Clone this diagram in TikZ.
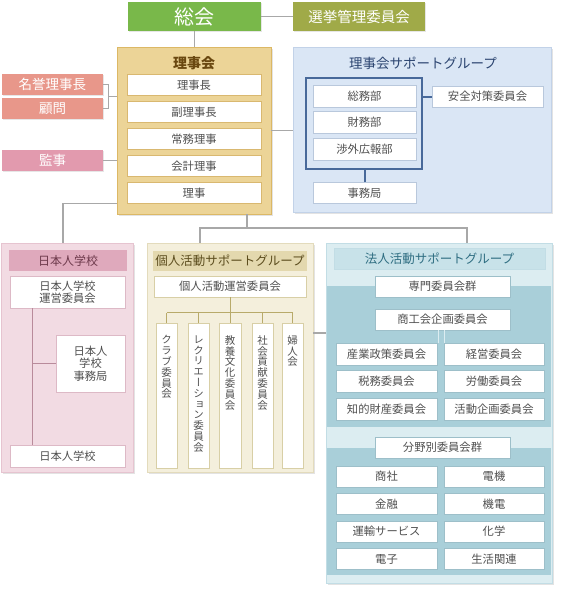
\documentclass[tikz,border=0pt]{standalone}
\usepackage{fontspec}
\setmainfont{Noto Sans CJK JP}
\newfontfamily\tatefont[RawFeature=+vert]{Noto Sans CJK JP}
\usetikzlibrary{calc,shadows}
\definecolor{sokaigreen}{HTML}{79B84A}
\definecolor{senkyoolive}{HTML}{A0AA48}
\definecolor{meiyosalmon}{HTML}{E8978A}
\definecolor{kanjipink}{HTML}{E29AAE}
\definecolor{rijifill}{HTML}{ECD497}
\definecolor{rijiborder}{HTML}{DCB865}
\definecolor{rijititle}{HTML}{6A4810}
\definecolor{rijiinner}{HTML}{D9B870}
\definecolor{supfill}{HTML}{DAE6F5}
\definecolor{supborder}{HTML}{C2D2E8}
\definecolor{suptitle}{HTML}{2B4470}
\definecolor{supinner}{HTML}{B9C8DC}
\definecolor{framenavy}{HTML}{48699A}
\definecolor{nihonfill}{HTML}{F2DBE3}
\definecolor{nihonborder}{HTML}{E6C4D0}
\definecolor{nihonhead}{HTML}{DFA9BC}
\definecolor{nihontitle}{HTML}{6E3A4C}
\definecolor{nihoninner}{HTML}{DDB9C6}
\definecolor{nihonline}{HTML}{B98B9B}
\definecolor{kojinfill}{HTML}{F4EFDC}
\definecolor{kojinborder}{HTML}{E3DBBC}
\definecolor{kojinhead}{HTML}{E3D8AE}
\definecolor{kojintitle}{HTML}{5C4D1E}
\definecolor{kojininner}{HTML}{D8CFA6}
\definecolor{kojinline}{HTML}{B8AA6A}
\definecolor{hojinlight}{HTML}{DCEDF1}
\definecolor{hojindark}{HTML}{A9CFD9}
\definecolor{hojinborder}{HTML}{C2DDE5}
\definecolor{hojinhead}{HTML}{C8E2E9}
\definecolor{hojintitle}{HTML}{2F6E82}
\definecolor{hojininner}{HTML}{9DBFC9}
\definecolor{conngray}{HTML}{A8A8A8}
\definecolor{txtgray}{HTML}{505050}
\newcommand{\tate}[1]{\parbox[c][120pt][t]{12pt}{\centering\tatefont\fontsize{10.5}{10.8}\selectfont #1}}
\begin{document}
\begin{tikzpicture}[x=1pt,y=-1pt,
    every node/.style={inner sep=0pt},
    grp/.style={draw=#1, line width=0.8pt, drop shadow={shadow xshift=1.5pt,shadow yshift=-1.5pt,opacity=0.22}},
    cbox/.style={fill=#1, text=white, font=\fontsize{13.5}{13.5}\selectfont, drop shadow={shadow xshift=1pt,shadow yshift=-1pt,opacity=0.2}},
    wbox/.style={fill=white, draw=#1, line width=0.5pt, text=txtgray, align=center, font=\fontsize{11.3}{12.5}\selectfont, drop shadow={shadow xshift=0.8pt,shadow yshift=-0.8pt,opacity=0.2}},
    vbox/.style={wbox=kojininner, minimum width=21.5pt, minimum height=145pt},
    conn/.style={draw=conngray, line width=1.2pt}]
\useasboundingbox (0,0) rectangle (561,590);

% top
\node[cbox=sokaigreen, minimum width=133pt, minimum height=29pt, font=\fontsize{20}{20}\selectfont] (sokai) at (194.5,16.5) {総会};
\node[cbox=senkyoolive, minimum width=132pt, minimum height=29pt, font=\fontsize{14.5}{14.5}\selectfont] (senkyo) at (359,16.5) {選挙管理委員会};

% board
\node[grp=rijiborder, fill=rijifill, minimum width=154pt, minimum height=167pt] (rijikai) at (194,130.5) {};
\node[font=\bfseries\fontsize{14}{14}\selectfont, text=rijititle] (rijikaiT) at (194,63) {理事会};
\foreach \n/\t [count=\i] in {rj1/理事長, rj2/副理事長, rj3/常務理事, rj4/会計理事, rj5/理事}
  \node[wbox=rijiinner, minimum width=134pt, minimum height=21pt] (\n) at (194,58+27*\i) {\t};
\node[cbox=meiyosalmon, minimum width=101pt, minimum height=21pt] (meiyo) at (52.5,84.5) {名誉理事長};
\node[cbox=meiyosalmon, minimum width=101pt, minimum height=21pt] (komon) at (52.5,108.5) {顧問};
\node[cbox=kanjipink, minimum width=101pt, minimum height=21pt] (kanji) at (52.5,160.5) {監事};

% board support group
\node[grp=supborder, fill=supfill, minimum width=258pt, minimum height=165pt] (support) at (422,129.5) {};
\node[font=\fontsize{13.5}{13.5}\selectfont, text=suptitle] (supportT) at (423,63) {理事会サポートグループ};
\node[draw=framenavy, line width=2pt, minimum width=116pt, minimum height=91pt] (frame) at (364,123.5) {};
\foreach \n/\t [count=\i] in {somu/総務部, zaimu/財務部, shogai/渉外広報部}
  \node[wbox=supinner, minimum width=103pt, minimum height=22pt] (\n) at (364.5,69.5+26.5*\i) {\t};
\node[wbox=supinner, minimum width=103pt, minimum height=21pt] (jimukyoku) at (364.5,193) {事務局};
\node[wbox=supinner, minimum width=111pt, minimum height=21pt] (anzen) at (487.5,96.5) {安全対策委員会};

% japanese school
\node[grp=nihonborder, fill=nihonfill, minimum width=132pt, minimum height=229pt] (nihon) at (67,357.5) {};
\node[fill=nihonhead, minimum width=118pt, minimum height=21pt, text=nihontitle, font=\fontsize{12}{12}\selectfont] (nihonT) at (68,260.5) {日本人学校};
\node[wbox=nihoninner, minimum width=115pt, minimum height=32pt] (nunei) at (67.5,292) {日本人学校\\運営委員会};
\node[wbox=nihoninner, minimum width=69pt, minimum height=57pt] (njimu) at (90.5,363.5) {日本人\\学校\\事務局};
\node[wbox=nihoninner, minimum width=115pt, minimum height=22pt] (nschool) at (67.5,456) {日本人学校};

% personal support group
\node[grp=kojinborder, fill=kojinfill, minimum width=166pt, minimum height=229pt] (kojin) at (230,357.5) {};
\node[fill=kojinhead, minimum width=154pt, minimum height=20pt, text=kojintitle, font=\fontsize{12.5}{12.5}\selectfont] (kojinT) at (230,260.5) {個人活動サポートグループ};
\node[wbox=kojininner, minimum width=152pt, minimum height=21pt] (kunei) at (230,286.5) {個人活動運営委員会};
\node[vbox] (v1) at (166.5,395.5) {\tate{ク\\ラ\\ブ\\委\\員\\会}};
\node[vbox] (v2) at (198.5,395.5) {\tate{レ\\ク\\リ\\エ\\ー\\シ\\ョ\\ン\\委\\員\\会}};
\node[vbox] (v3) at (230,395.5) {\tate{教\\養\\文\\化\\委\\員\\会}};
\node[vbox] (v4) at (262.5,395.5) {\tate{社\\会\\貢\\献\\委\\員\\会}};
\node[vbox] (v5) at (292.5,395.5) {\tate{婦\\人\\会}};

% corporate support group
\node[grp=hojinborder, fill=hojinlight, minimum width=226pt, minimum height=340pt] (hojin) at (439,413) {};
\fill[hojindark] (327,286) rectangle (551,427);
\fill[hojindark] (327,448) rectangle (551,575);
\node[fill=hojinhead, draw=hojinborder, line width=0.5pt, minimum width=211pt, minimum height=21pt, text=hojintitle, font=\fontsize{12.5}{12.5}\selectfont] (hojinT) at (439.5,258.5) {法人活動サポートグループ};
\node[wbox=hojininner, minimum width=135pt, minimum height=21pt] (senmon) at (442.5,286.5) {専門委員会群};
\node[wbox=hojininner, minimum width=135pt, minimum height=21pt] (shoko) at (442.5,319.5) {商工会企画委員会};
\foreach \a/\b [count=\i] in {産業政策委員会/経営委員会, 税務委員会/労働委員会, 知的財産委員会/活動企画委員会} {
  \node[wbox=hojininner, minimum width=101pt, minimum height=22pt] (hL\i) at (386.5,326.5+27.5*\i) {\a};
  \node[wbox=hojininner, minimum width=100pt, minimum height=22pt] (hR\i) at (494,326.5+27.5*\i) {\b};
}
\node[wbox=hojininner, minimum width=135pt, minimum height=21pt] (bunya) at (442.5,447.5) {分野別委員会群};
\foreach \a/\b [count=\i] in {商社/電機, 金融/機電, 運輸サービス/化学, 電子/生活関連} {
  \node[wbox=hojininner, minimum width=101pt, minimum height=21pt] (fL\i) at (386.5,449+27.5*\i) {\a};
  \node[wbox=hojininner, minimum width=100pt, minimum height=21pt] (fR\i) at (494,449+27.5*\i) {\b};
}

% connectors
\draw[conn] (sokai.east) -- (senkyo.west);
\draw[conn] (sokai.south) -- (sokai.south |- rijikai.north);
\coordinate (brk) at ($(meiyo.east)!0.5!(komon.east)+(5,0)$);
\draw[conn, line width=0.8pt] (meiyo.east) -| (brk) |- (komon.east);
\draw[conn] (brk) -- (brk -| rijikai.west);
\draw[conn] (kanji.east) -- (kanji.east -| rijikai.west);
\draw[conn] (rijikai.east) -- (rijikai.east -| support.west);
\draw[draw=framenavy, line width=2pt] (anzen.west) -- (anzen.west -| frame.east);
\draw[draw=framenavy, line width=2pt] (jimukyoku.north) -- (jimukyoku.north |- frame.south);
\draw[conn] ($(rijikai.south west)+(0,-11)$) -| ([xshift=-4pt]nihon.north);
\coordinate (fork) at (247,228);
\draw[conn] (rijikai.south -| fork) -- (fork);
\draw[conn] ([xshift=-30pt]kojin.north) |- (fork) -| ([xshift=28pt]hojin.north);
\coordinate (kjr) at ([yshift=24.5pt]kojin.east);
\draw[conn] (kjr) -- (kjr -| hojin.west);
\coordinate (nl) at ([xshift=-35.5pt]nunei.south);
\draw[nihonline, line width=0.8pt] (nl) -- (nl |- nschool.north);
\draw[nihonline, line width=0.8pt] (njimu.west) -- (njimu.west -| nl);
\draw[kojinline, line width=0.8pt] (kunei.south) -- ([yshift=10pt]v3.north);
\draw[kojinline, line width=0.8pt] ([yshift=10pt]v1.north) -- ([yshift=10pt]v5.north);
\foreach \v in {v1,v2,v3,v4,v5}
  \draw[kojinline, line width=0.8pt] (\v.north) -- ++(0,-10);
\draw[hojinlight, line width=1pt] ([xshift=-4.5pt]shoko.south) -- ++(0,13);
\draw[hojinlight, line width=1pt] ([xshift=1.5pt]shoko.south) -- ++(0,13);
\end{tikzpicture}
\end{document}
